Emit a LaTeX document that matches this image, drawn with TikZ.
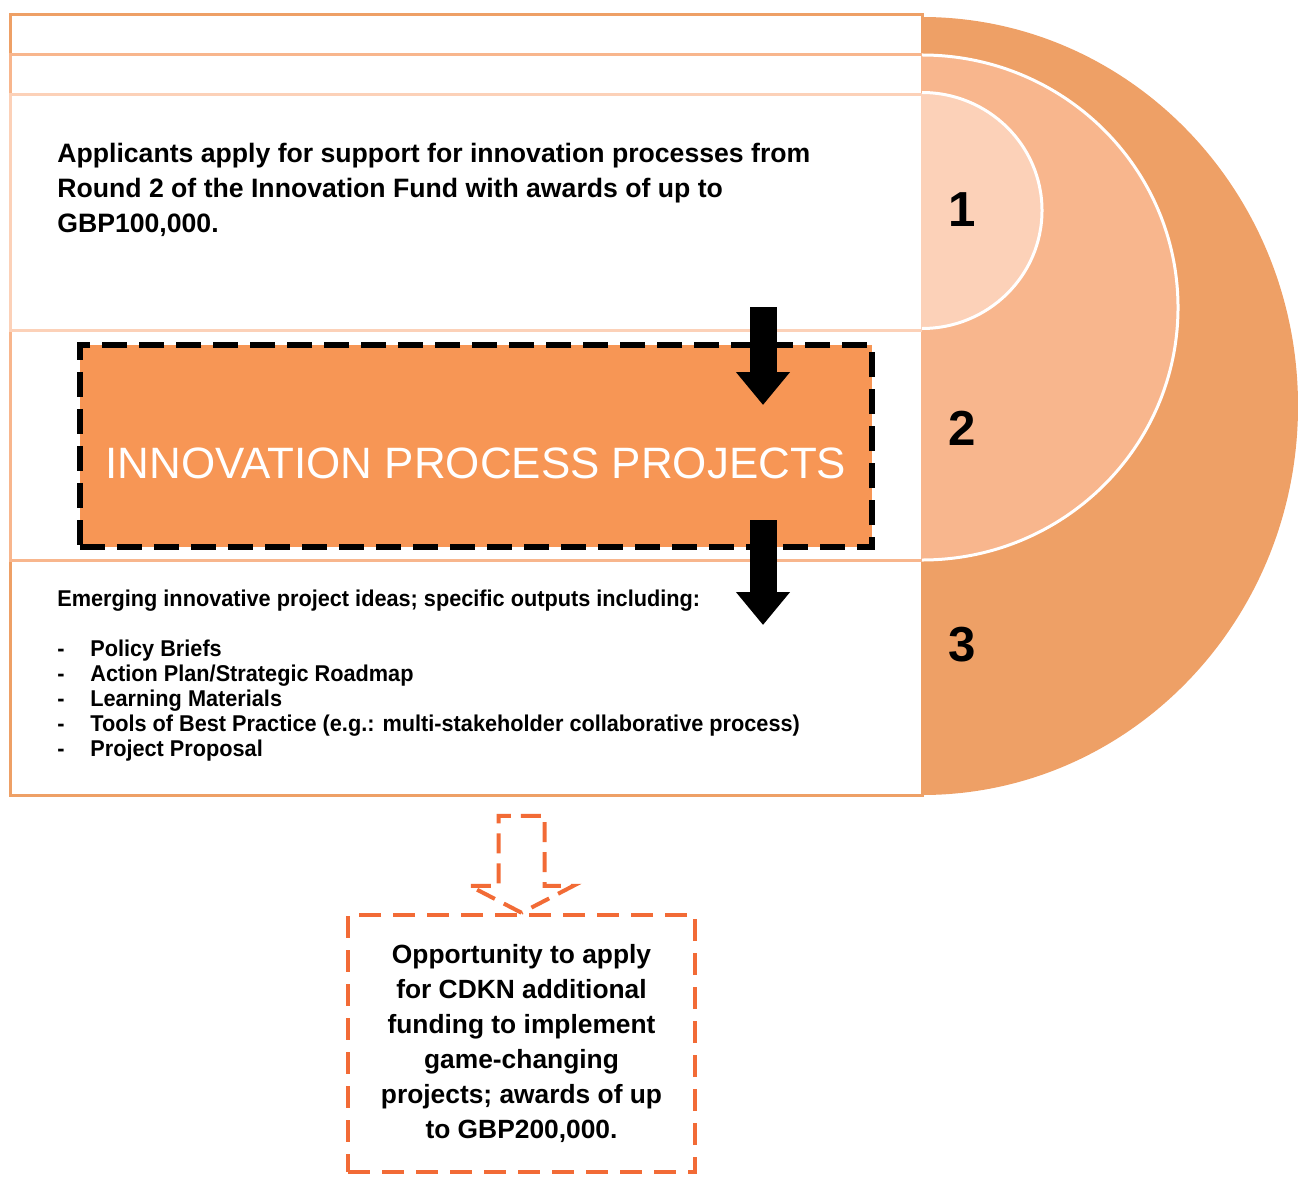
\documentclass[tikz,border=0pt]{standalone}
\usepackage{fontspec}
\setmainfont{Liberation Sans}
\newfontfamily\narrowfont[FakeStretch=0.95]{Liberation Sans}
\usetikzlibrary{arrows.meta}
\usetikzlibrary{positioning}

\definecolor{ringout}{HTML}{EEA066}
\definecolor{ringmid}{HTML}{F8B68D}
\definecolor{ringin}{HTML}{FCD1B8}
\definecolor{boxfill}{HTML}{F79655}
\definecolor{dashora}{HTML}{F26B36}

\tikzset{
	panel/.style={fill=white, line width=0.6mm},
	ringnum/.style={font=\fontsize{28}{30}\selectfont\bfseries},
	toptext/.style={anchor=north west, align=left, inner sep=0, font=\fontsize{15.15}{19.9}\selectfont\bfseries},
	listtext/.style={anchor=base west, inner sep=0, font=\narrowfont\fontsize{13}{15}\selectfont\bfseries},
	ippbox/.style={draw=black, fill=boxfill, dash pattern=on 5mm off 2.4mm, line width=1.2mm, minimum width=158.4mm, minimum height=40.4mm, inner sep=0},
	ipptitle/.style={text=white, font=\fontsize{25}{30}\selectfont},
	blockarrow/.style={line width=5.4mm, -{Triangle[width=10.4mm,length=6.6mm]}},
	oppbox/.style={draw=dashora, dash pattern=on 4.4mm off 2.4mm, line width=0.9mm, minimum width=69.4mm, minimum height=51.4mm, align=center, inner sep=0, font=\fontsize{15}{20}\selectfont\bfseries},
	hollowarr/.style={draw=dashora, dash pattern=on 4mm off 2mm, line width=0.8mm, line join=miter}
}

\begin{document}
\begin{tikzpicture}[x=0.2mm, y=-0.2mm]
	\useasboundingbox (0,0) rectangle (1298,1178);
	% panels
	\draw[panel, draw=ringout] (10,15) rectangle (922,795);
	\draw[panel, draw=ringmid] (10,55) rectangle (922,560);
	\draw[panel, draw=ringin] (10,95) rectangle (922,330);
	% rings
	\begin{scope}
		\clip (922,0) rectangle (1298,1178);
		\fill[ringout] (922,406) ellipse [x radius=75.2mm, y radius=77.8mm];
		\filldraw[fill=ringmid, draw=white, line width=0.6mm] (922,307.5) ellipse [x radius=51.2mm, y radius=50.5mm];
		\filldraw[fill=ringin, draw=white, line width=0.6mm] (922,210.5) ellipse [x radius=24mm, y radius=23.6mm];
	\end{scope}
	\node[ringnum] (n1) at (962,210) {1};
	\node[ringnum] (n2) at (962,428) {2};
	\node[ringnum] (n3) at (962,645) {3};
	% stage 1
	\node[toptext] (apply) at (57,143) {Applicants apply for support for innovation processes from\\Round 2 of the Innovation Fund with awards of up to\\GBP100,000.};
	% stage 2
	\node[ippbox] (ipp) at (476,446) {};
	\node[ipptitle] (ipptxt) at (476,463) {INNOVATION PROCESS PROJECTS};
	\coordinate (arrtop) at (763,307);
	\coordinate (arrin) at (763,405);
	\coordinate (arrlow) at (763,520);
	\coordinate (arrout) at (763,625);
	\draw[blockarrow] (arrtop) -- (arrin);
	\draw[blockarrow] (arrlow) -- (arrout);
	% stage 3
	\node[listtext] (head) at (57,606) {Emerging innovative project ideas; specific outputs including:};
	\node[listtext] (d1) at (57,656) {-};
	\node[listtext] (d2) at (57,681) {-};
	\node[listtext] (d3) at (57,706) {-};
	\node[listtext] (d4) at (57,731) {-};
	\node[listtext] (d5) at (57,756) {-};
	\node[listtext] (i1) at (90,656) {Policy Briefs};
	\node[listtext] (i2) at (90,681) {Action Plan/Strategic Roadmap};
	\node[listtext] (i3) at (90,706) {Learning Materials};
	\node[listtext] (i4) at (90,731) {Tools of Best Practice (e.g.: multi-stakeholder collaborative process)};
	\node[listtext] (i5) at (90,756) {Project Proposal};
	% follow-up funding
	\node[oppbox] (opp) at (521.5,1043.5) {Opportunity to apply\\for CDKN additional\\funding to implement\\game-changing\\projects; awards of up\\to GBP200,000.};
	\draw[hollowarr] (opp.north) -- ++(-52,-27) -- ++(29,0) -- ++(0,-70) -- ++(46,0) -- ++(0,70) -- ++(29,0) -- cycle;
\end{tikzpicture}
\end{document}
